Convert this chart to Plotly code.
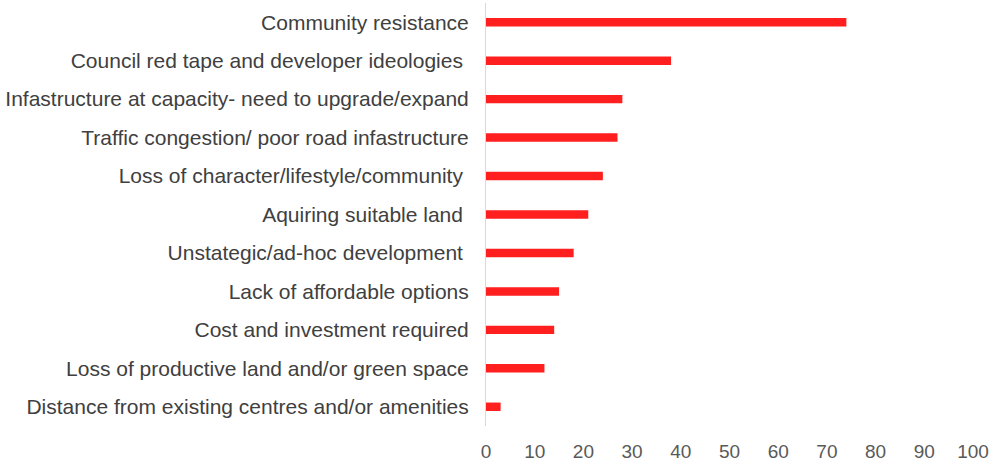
import plotly.graph_objects as go

categories = [
    "Community resistance",
    "Council red tape and developer ideologies\u00a0",
    "Infastructure at capacity- need to upgrade/expand",
    "Traffic congestion/ poor road infastructure",
    "Loss of character/lifestyle/community\u00a0",
    "Aquiring suitable land\u00a0",
    "Unstategic/ad-hoc development\u00a0",
    "Lack of affordable options",
    "Cost and investment required",
    "Loss of productive land and/or green space",
    "Distance from existing centres and/or amenities",
]
values = [74, 38, 28, 27, 24, 21, 18, 15, 14, 12, 3]
x_ticks = [0, 10, 20, 30, 40, 50, 60, 70, 80, 90, 100]

fig = go.Figure(
    go.Bar(
        x=values,
        y=categories,
        orientation="h",
        marker=dict(color="#FF1F1F", line=dict(width=0)),
    )
)

fig.update_layout(
    width=991,
    height=464,
    margin=dict(l=486, r=18, t=3, b=38),
    paper_bgcolor="white",
    plot_bgcolor="white",
    bargap=0.78,
    showlegend=False,
    font=dict(family="Liberation Sans, Arial, sans-serif", color="#404040"),
)
fig.update_xaxes(
    range=[0, 100],
    tickvals=x_ticks,
    showgrid=False,
    zeroline=False,
    showline=False,
    tickfont=dict(size=19, color="#595959"),
    ticklabelstandoff=12,
    automargin=False,
    fixedrange=True,
)
fig.update_yaxes(
    autorange="reversed",
    showgrid=False,
    zeroline=False,
    showline=True,
    linecolor="#D9D9D9",
    linewidth=1,
    tickfont=dict(size=21, color="#404040"),
    ticklabelstandoff=12,
    automargin=False,
    fixedrange=True,
)

fig.write_html(
    "out.html",
    config={"displayModeBar": False},
    post_script="document.body.style.margin='0';document.body.style.overflow='hidden';",
)
